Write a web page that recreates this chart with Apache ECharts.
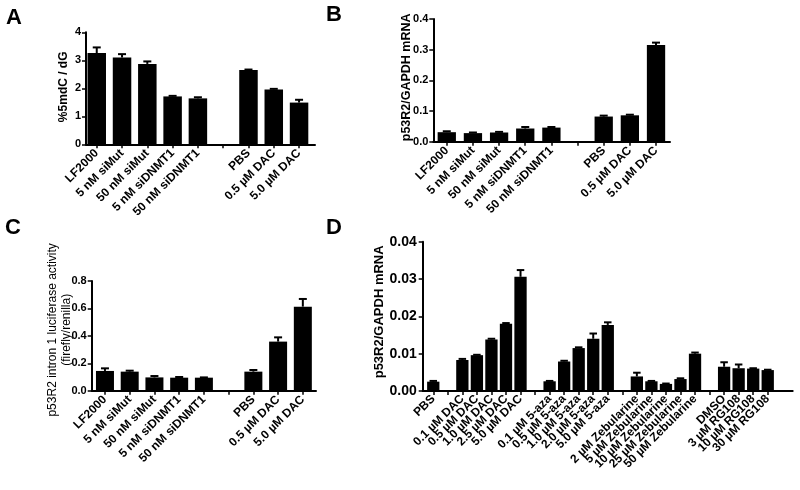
<!DOCTYPE html>
<html><head><meta charset="utf-8">
<script src="https://cdn.jsdelivr.net/npm/echarts@6/dist/echarts.min.js"></script>
<style>html,body{margin:0;padding:0;background:#fff}#c{width:800px;height:490px}</style>
</head><body><div id="c"></div>
<script>
// ---- data ----
const catsA = ['LF2000','5 nM siMut','50 nM siMut','5 nM siDNMT1','50 nM siDNMT1','','PBS','0.5 µM DAC','5.0 µM DAC'];
const valsA = [3.26,3.10,2.87,1.71,1.64,null,2.65,1.96,1.49];
const errA  = [0.20,0.12,0.09,0.02,0.04,null,0.02,0.02,0.10];
const ticksA = ['0','1','2','3','4'];

const catsB = ['LF2000','5 nM siMut','50 nM siMut','5 nM siDNMT1','50 nM siDNMT1','','PBS','0.5 µM DAC','5.0 µM DAC'];
const valsB = [0.031,0.028,0.030,0.043,0.046,null,0.082,0.086,0.315];
const errB  = [0.003,0.002,0.002,0.005,0.002,null,0.003,0.002,0.008];
const ticksB = ['0.0','0.1','0.2','0.3','0.4'];

const catsC = ['LF2000','5 nM siMut','50 nM siMut','5 nM siDNMT1','50 nM siDNMT1','','PBS','0.5 µM DAC','5.0 µM DAC'];
const valsC = [0.144,0.139,0.097,0.095,0.095,null,0.139,0.358,0.613];
const errC  = [0.019,0.007,0.010,0.005,0.002,null,0.012,0.031,0.056];
const ticksC = ['0.0','0.2','0.4','0.6','0.8'];

const catsD = ['PBS','','0.1 µM DAC','0.5 µM DAC','1.0 µM DAC','2.5 µM DAC','5.0 µM DAC','',
  '0.1 µM 5-aza','0.5 µM 5-aza','1.0 µM 5-aza','2.0 µM 5-aza','5.0 µM 5-aza','',
  '2 µM Zebularine','5 µM Zebularine','10 µM Zebularine','25 µM Zebularine','50 µM Zebularine','',
  'DMSO','3 µM RG108','10 µM RG108','30 µM RG108'];
const valsD = [0.0025,null,0.0083,0.0096,0.0138,0.0180,0.0306,null,
  0.0026,0.0079,0.0115,0.0140,0.0177,null,
  0.0039,0.0026,0.0019,0.0032,0.0100,null,
  0.0065,0.0061,0.0060,0.0056];
const errD  = [0.0002,null,0.0003,0.0001,0.0002,0.0002,0.0018,null,
  0.0001,0.0002,0.0002,0.0014,0.0007,null,
  0.0010,0.0001,0.0001,0.0002,0.0003,null,
  0.0012,0.0010,0.0001,0.0001];
const ticksD = ['0.00','0.01','0.02','0.03','0.04'];

// ---- layout / style ----
const FONT = '"Liberation Sans", Arial, sans-serif';
const panels = [
  {cats:catsA, vals:valsA, errs:errA, ticks:ticksA, yMax:4, interval:1,
   ax:{left:86, top:32.3, width:229, height:112}, bars:{left:84.1, width:227.6},
   barW:18.5, capW:8, tickFont:11, tickMargin:5, name:'%5mdC / dG', nameGap:15, nameFont:12, nameWeight:'bold', nameLH:14, namePad:[0,0,0,3],
   labFont:12, labMargin:7},
  {cats:catsB, vals:valsB, errs:errB, ticks:ticksB, yMax:0.4, interval:0.1,
   ax:{left:433.3, top:19, width:236.7, height:122.7}, bars:{left:433.7, width:235.4},
   barW:18.3, capW:8, tickFont:11, tickMargin:5, name:'p53R2/GAPDH mRNA', nameGap:19, nameFont:12.5, nameWeight:'bold', nameLH:15, namePad:[0,0,0,6],
   labFont:12, labMargin:7},
  {cats:catsC, vals:valsC, errs:errC, ticks:ticksC, yMax:0.8, interval:0.2,
   ax:{left:91.7, top:281, width:224.3, height:109.7}, bars:{left:92.6, width:222.6},
   barW:18, capW:8, tickFont:11, tickMargin:5, name:'p53R2 intron 1 luciferase activity\n(firefly/renilla)', nameGap:18, nameFont:12, nameWeight:'normal', nameLH:14, namePad:[0,0,0,12],
   labFont:12, labMargin:7},
  {cats:catsD, vals:valsD, errs:errD, ticks:ticksD, yMax:0.04, interval:0.01,
   ax:{left:422.7, top:241.7, width:370, height:149.3}, bars:{left:426.0, width:349},
   barW:12.3, capW:7.5, tickFont:14, tickMargin:6, name:'p53R2/GAPDH mRNA', nameGap:36, nameFont:13, nameWeight:'bold', nameLH:15, namePad:[0,0,0,9],
   labFont:12, labMargin:6}
];

const grid = [], xAxis = [], yAxis = [], series = [];
panels.forEach((p, k) => {
  const g0 = grid.length;
  grid.push(Object.assign({outerBoundsMode:'none', containLabel:false}, p.ax));
  grid.push({outerBoundsMode:'none', containLabel:false, left:p.bars.left, width:p.bars.width, top:p.ax.top, height:p.ax.height});
  xAxis.push({gridIndex:g0, type:'value', min:0, max:1, axisLine:{show:true, lineStyle:{color:'#000', width:2}},
    axisTick:{show:false}, axisLabel:{show:false}, splitLine:{show:false}});
  yAxis.push({gridIndex:g0, type:'value', min:0, max:p.yMax, interval:p.interval,
    axisLine:{show:true, lineStyle:{color:'#000', width:2}},
    axisTick:{show:true, inside:false, length:4, lineStyle:{color:'#000', width:1.5}},
    axisLabel:{color:'#000', fontFamily:FONT, fontWeight:'bold', fontSize:p.tickFont, margin:p.tickMargin,
      formatter:(v)=> p.ticks[Math.round(v/p.interval)]},
    splitLine:{show:false},
    name:p.name, nameLocation:'middle', nameGap:p.nameGap, nameMoveOverlap:false,
    nameTextStyle:{color:'#000', fontFamily:FONT, fontWeight:p.nameWeight, fontSize:p.nameFont, lineHeight:p.nameLH, align:'center', padding:p.namePad}});
  xAxis.push({gridIndex:g0+1, type:'category', data:p.cats,
    axisLine:{show:false}, axisTick:{show:true, alignWithLabel:true, interval:0, length:4, lineStyle:{color:'#000', width:1.5}},
    axisLabel:{interval:0, rotate:45, color:'#000', fontFamily:FONT, fontWeight:'bold', fontSize:p.labFont, margin:p.labMargin, hideOverlap:false},
    splitLine:{show:false}});
  yAxis.push({gridIndex:g0+1, type:'value', min:0, max:p.yMax, show:false});
  const xi = xAxis.length - 1, yi = yAxis.length - 1;
  series.push({type:'bar', xAxisIndex:xi, yAxisIndex:yi, data:p.vals.map(v => v == null ? '-' : v),
    barWidth:p.barW, itemStyle:{color:'#000'}, silent:true, animation:false});
  const ed = [];
  p.vals.forEach((v, i) => { if (v != null) ed.push([i, v, p.errs[i]]); });
  series.push({type:'custom', xAxisIndex:xi, yAxisIndex:yi, data:ed, animation:false, silent:true, z:3,
    renderItem:(params, api) => {
      const i = api.value(0), v = api.value(1), e = api.value(2);
      const a = api.coord([i, v]), b = api.coord([i, v + e]);
      const hw = p.capW / 2;
      return {type:'group', children:[
        {type:'line', shape:{x1:a[0], y1:a[1], x2:b[0], y2:b[1]}, style:{stroke:'#000', lineWidth:2}},
        {type:'line', shape:{x1:b[0]-hw, y1:b[1], x2:b[0]+hw, y2:b[1]}, style:{stroke:'#000', lineWidth:2}}
      ]};
    }});
});

const letters = [['A',6,7],['B',326,4],['C',5,217],['D',326,217]];
const graphic = letters.map(l => ({type:'text', left:l[1], top:l[2],
  style:{text:l[0], fill:'#000', font:'bold 22px ' + FONT}}));

const chart = echarts.init(document.getElementById('c'), null, {renderer:'canvas'});
chart.setOption({backgroundColor:'#fff', animation:false, grid, xAxis, yAxis, series, graphic});
</script></body></html>
